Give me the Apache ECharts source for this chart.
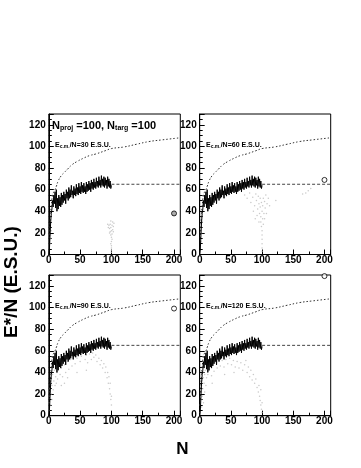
<!DOCTYPE html>
<html><head><meta charset="utf-8">
<script src="https://cdn.jsdelivr.net/npm/echarts@6/dist/echarts.min.js"></script>
<style>html,body{margin:0;padding:0;background:#fff}#c{width:361px;height:468px}</style>
</head><body><div id="c"></div>
<script>
// ---- data ----
const energies = [30, 60, 90, 120];               // E_cm/N per panel
const xTicks = [0, 50, 100, 150, 200];
const yTicks = [0, 20, 40, 60, 80, 100, 120];
// black fluctuating curve, N = 0..100
const jagged = [
  0,5,18,30,38,42,50,44,55,47,
  58,43,60,40,52,42,55,45,53,44,
  57,46,55,48,58,50,56,47,60,52,
  58,50,62,52,60,53,64,55,59,52,
  63,55,61,54,65,56,62,55,66,57,
  63,56,67,58,64,57,66,58,63,56,
  67,58,65,59,68,60,66,58,69,61,
  67,60,70,62,67,61,71,63,68,62,
  72,64,69,62,73,64,70,63,72,62,
  71,64,69,61,72,63,70,62,68,61,
  64];
// dotted reference curve
const dottedCurve = [[1,15],[2,28],[3,38],[4,45],[6,55],[8,58],[10,60],[12,63],[15,68],[20,73],[25,76],[30,79],[37,83],[45,86],[55,89],[65,91.5],[75,93],[90,96],[100,98],[120,99.5],[140,102],[160,104.5],[180,106],[210,108]];
// horizontal dashed level
const plateau = [[100,65],[210,65]];
// open circle per panel
const circles = [[200,38],[200,69],[200,99],[200,129]];
// gray scatter per panel
const gray30 = [[100,2],[100,4],[100,6],[100,8],[99,10],[100,12],[101,14],[100,16],[99,18],[101,19],[98,21],[100,22],[102,23],[97,24],[99,25],[103,26],[96,27],[101,27],[98,28],[104,29],[95,25],[94,28],[102,30],[99,31],[97,20],[103,21],[3,15],[3,18],[4,22],[2,10]];
const gray60 = [[72,55],[76,52],[80,57],[82,48],[85,53],[88,45],[90,56],[91,50],[93,42],[94,54],[95,47],[96,38],[97,52],[97,44],[98,35],[98,30],[99,48],[99,26],[100,40],[100,22],[100,18],[100,14],[100,10],[100,6],[100,3],[101,33],[101,45],[102,28],[102,52],[103,38],[104,49],[105,43],[106,55],[108,47],[110,52],[112,45],[92,36],[95,30],[104,33],[122,50],[165,56],[170,57],[174,59],[178,61],[2,12],[3,20],[4,30],[86,40],[89,33],[107,38]];
const gray90 = [[1,5],[1,12],[2,18],[2,25],[3,10],[3,30],[4,20],[4,35],[5,15],[5,28],[6,38],[7,24],[8,32],[9,42],[10,28],[11,36],[12,30],[13,40],[14,34],[15,45],[18,38],[20,44],[22,36],[25,47],[27,40],[30,50],[32,43],[35,52],[37,46],[40,55],[42,48],[45,53],[48,57],[50,50],[52,55],[55,58],[58,52],[60,56],[62,49],[65,57],[68,52],[70,58],[72,54],[75,56],[77,50],[80,53],[82,47],[84,51],[86,44],[88,48],[90,40],[91,45],[93,35],[94,40],[95,30],[96,36],[97,25],[98,20],[98,30],[99,15],[100,10],[100,18],[30,35],[45,40],[60,42],[25,30],[20,28]];
const gray120 = [[1,3],[1,10],[2,15],[2,22],[3,8],[3,28],[4,18],[4,33],[5,25],[5,40],[6,12],[6,35],[7,30],[7,45],[8,22],[8,38],[9,42],[10,28],[10,48],[11,35],[12,44],[13,38],[14,47],[15,42],[17,45],[19,37],[21,48],[23,41],[25,50],[28,44],[30,52],[33,46],[36,51],[39,45],[42,52],[45,48],[48,53],[51,47],[54,51],[57,45],[60,50],[63,44],[66,49],[69,42],[72,47],[74,51],[76,40],[78,45],[80,36],[82,42],[84,33],[86,38],[88,30],[90,34],[92,26],[94,22],[95,28],[96,18],[97,14],[98,10],[98,24],[99,6],[100,3],[100,12],[20,30],[40,38],[55,40]];
const grayPanels = [gray30, gray60, gray90, gray120];

// ---- layout ----
const FONT = 'Liberation Sans';
const grids = [
  {left:48.8, top:114, width:131.5, height:140.5},
  {left:199.7, top:114, width:131, height:140.5},
  {left:48.8, top:275, width:131.5, height:140.7},
  {left:199.7, top:275, width:131, height:140.7}
];
const textPos = [[55,147],[206,147],[55,308],[206,308]];

const chart = echarts.init(document.getElementById('c'), null, {renderer:'canvas'});
const xAxes = [], yAxes = [], series = [], gridOpts = [], graphics = [];
grids.forEach((g, i) => {
  gridOpts.push(Object.assign({show:true, borderColor:'#000', borderWidth:1, backgroundColor:'transparent', containLabel:false, outerBoundsMode:'none'}, g));
  xAxes.push({
    type:'value', gridIndex:i, min:0, max:210, interval:50,
    axisLine:{show:true, onZero:false, lineStyle:{color:'#000', width:1}},
    axisTick:{show:true, inside:true, length:5, lineStyle:{color:'#000'}},
    minorTick:{show:true, splitNumber:2, length:3, lineStyle:{color:'#000'}},
    splitLine:{show:false},
    axisLabel:{margin:1, color:'#000', fontFamily:FONT, fontWeight:'bold', fontSize:10,
      formatter: v => xTicks.includes(v) ? String(v) : ''}
  });
  yAxes.push({
    type:'value', gridIndex:i, min:0, max:130, interval:20,
    axisLine:{show:true, onZero:false, lineStyle:{color:'#000', width:1}},
    axisTick:{show:true, inside:true, length:5, lineStyle:{color:'#000'}},
    minorTick:{show:true, splitNumber:4, length:3, lineStyle:{color:'#000'}},
    splitLine:{show:false},
    axisLabel:{margin:3, color:'#000', fontFamily:FONT, fontWeight:'bold', fontSize:10,
      formatter: v => yTicks.includes(v) ? String(v) : ''}
  });
  series.push({type:'scatter', xAxisIndex:i, yAxisIndex:i, data:grayPanels[i], symbol:'circle', symbolSize:1.5,
    itemStyle:{color:'#bcbcbc'}, silent:true, z:1});
  series.push({type:'line', xAxisIndex:i, yAxisIndex:i, data:dottedCurve, showSymbol:false, smooth:true,
    lineStyle:{color:'#333', width:1, type:[1.5,2]}, silent:true, z:2});
  series.push({type:'line', xAxisIndex:i, yAxisIndex:i, data:plateau, showSymbol:false,
    lineStyle:{color:'#444', width:1, type:[3,2]}, silent:true, z:2});
  series.push({type:'line', xAxisIndex:i, yAxisIndex:i, data:jagged.map((v,n)=>[n,v]), showSymbol:false,
    lineStyle:{color:'#000', width:1}, silent:true, z:3});
  series.push({type:'scatter', xAxisIndex:i, yAxisIndex:i, data:[circles[i]], symbol:'circle', symbolSize:5,
    itemStyle:{color: i===0 ? '#999' : '#fff', borderColor:'#000', borderWidth:1}, silent:true, z:4});
  graphics.push({type:'text', left:textPos[i][0], top:textPos[i][1]-5, z:10,
    style:{text:'{e|E}{s|c.m.}{e|/N=' + energies[i] + ' E.S.U.}',
      rich:{e:{fontFamily:FONT, fontWeight:'bold', fontSize:7, fill:'#000'},
            s:{fontFamily:FONT, fontWeight:'bold', fontSize:5, fill:'#000', verticalAlign:'bottom', padding:[3,0,0,0]}}}});
});
graphics.push({type:'text', left:52, top:120, z:10,
  style:{text:'{n|N}{s|proj}{n| =100, N}{s|targ}{n| =100}',
    rich:{n:{fontFamily:FONT, fontWeight:'bold', fontSize:11, fill:'#000'},
          s:{fontFamily:FONT, fontWeight:'bold', fontSize:7, fill:'#000', padding:[6,0,0,0]}}}});
graphics.push({type:'text', x:12, y:282, rotation:Math.PI/2, z:10,
  style:{text:'E*/N (E.S.U.)', fontFamily:FONT, fontWeight:'bold', fontSize:19, fill:'#000', align:'center', verticalAlign:'middle'}});
graphics.push({type:'text', x:182.5, y:449, z:10,
  style:{text:'N', fontFamily:FONT, fontWeight:'bold', fontSize:17, fill:'#000', align:'center', verticalAlign:'middle'}});

chart.setOption({
  animation:false,
  backgroundColor:'#fff',
  grid:gridOpts, xAxis:xAxes, yAxis:yAxes, series:series, graphic:graphics
});
</script></body></html>
